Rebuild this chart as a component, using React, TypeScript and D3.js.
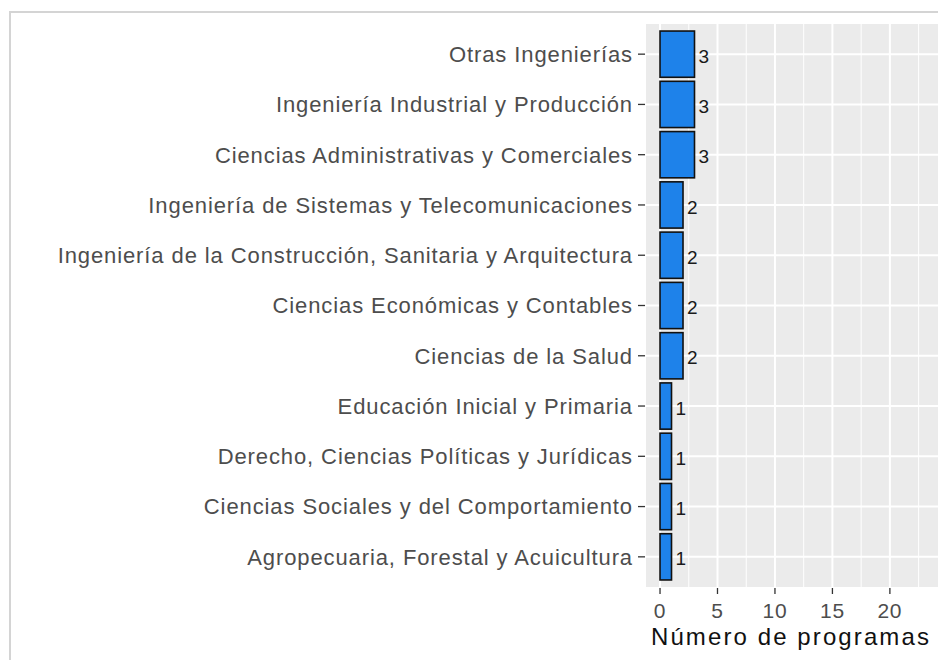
import React, { useRef, useEffect } from 'react';
import * as d3 from 'd3';

// categories top to bottom, as shown
const categories = [
  'Otras Ingenierías',
  'Ingeniería Industrial y Producción',
  'Ciencias Administrativas y Comerciales',
  'Ingeniería de Sistemas y Telecomunicaciones',
  'Ingeniería de la Construcción, Sanitaria y Arquitectura',
  'Ciencias Económicas y Contables',
  'Ciencias de la Salud',
  'Educación Inicial y Primaria',
  'Derecho, Ciencias Políticas y Jurídicas',
  'Ciencias Sociales y del Comportamiento',
  'Agropecuaria, Forestal y Acuicultura',
];
const programas = [3, 3, 3, 2, 2, 2, 2, 1, 1, 1, 1];
const xTicks = [0, 5, 10, 15, 20];
const xMinor = [2.5, 7.5, 12.5, 17.5, 22.5];
const xTitle = 'Número de programas';

const App: React.FC = () => {
  const ref = useRef<SVGSVGElement | null>(null);

  useEffect(() => {
    if (!ref.current) return;
    const width = 938;
    const height = 660;
    const panel = { left: 646, right: 960, top: 24, bottom: 587 };
    const font = 'Liberation Sans, Arial, sans-serif';

    const svg = d3.select(ref.current);
    svg.selectAll('*').remove();
    svg.attr('width', width).attr('height', height);

    svg.append('rect').attr('width', width).attr('height', height).attr('fill', '#fff');

    // outer frame (cut off right and bottom)
    svg.append('rect')
      .attr('x', 10).attr('y', 12)
      .attr('width', 1000).attr('height', 1000)
      .attr('fill', 'none')
      .attr('stroke', '#d4d4d4')
      .attr('stroke-width', 2);

    const x = d3.scaleLinear().domain([-1.22, 26.1]).range([panel.left, panel.right]);
    const y = d3.scalePoint<string>().domain(categories).range([panel.top, panel.bottom]).padding(0.6);
    const barH = y.step() * 0.92;

    svg.append('rect')
      .attr('x', panel.left).attr('y', panel.top)
      .attr('width', panel.right - panel.left).attr('height', panel.bottom - panel.top)
      .attr('fill', '#ebebeb');

    // minor grid
    svg.append('g').selectAll('line').data(xMinor).enter().append('line')
      .attr('x1', d => x(d)).attr('x2', d => x(d))
      .attr('y1', panel.top).attr('y2', panel.bottom)
      .attr('stroke', '#fff').attr('stroke-width', 1);

    // major grid
    svg.append('g').selectAll('line').data(xTicks).enter().append('line')
      .attr('x1', d => x(d)).attr('x2', d => x(d))
      .attr('y1', panel.top).attr('y2', panel.bottom)
      .attr('stroke', '#fff').attr('stroke-width', 2);

    svg.append('g').selectAll('line').data(categories).enter().append('line')
      .attr('x1', panel.left).attr('x2', panel.right)
      .attr('y1', d => y(d)!).attr('y2', d => y(d)!)
      .attr('stroke', '#fff').attr('stroke-width', 2);

    // bars
    svg.append('g').selectAll('rect').data(categories).enter().append('rect')
      .attr('x', x(0))
      .attr('y', d => y(d)! - barH / 2)
      .attr('width', (d, i) => x(programas[i]) - x(0))
      .attr('height', barH)
      .attr('fill', '#1e82ea')
      .attr('stroke', '#111')
      .attr('stroke-width', 1.6);

    // value labels
    svg.append('g').selectAll('text').data(categories).enter().append('text')
      .attr('x', (d, i) => x(programas[i]) + 4)
      .attr('y', d => y(d)!)
      .attr('dy', '0.45em')
      .attr('font-family', font)
      .attr('font-size', 19)
      .attr('fill', '#1a1a1a')
      .text((d, i) => programas[i]);

    // y axis
    const yAxis = svg.append('g');
    yAxis.selectAll('line').data(categories).enter().append('line')
      .attr('x1', panel.left - 8).attr('x2', panel.left - 1)
      .attr('y1', d => y(d)!).attr('y2', d => y(d)!)
      .attr('stroke', '#333').attr('stroke-width', 1.3);
    yAxis.selectAll('text').data(categories).enter().append('text')
      .attr('x', panel.left - 13)
      .attr('y', d => y(d)!)
      .attr('dy', '0.36em')
      .attr('text-anchor', 'end')
      .attr('font-family', font)
      .attr('font-size', 22)
      .attr('letter-spacing', 0.9)
      .attr('fill', '#4d4d4d')
      .text(d => d);

    // x axis
    const xAxis = svg.append('g');
    xAxis.selectAll('line').data(xTicks).enter().append('line')
      .attr('x1', d => x(d)).attr('x2', d => x(d))
      .attr('y1', panel.bottom + 1).attr('y2', panel.bottom + 7)
      .attr('stroke', '#333').attr('stroke-width', 1.3);
    xAxis.selectAll('text').data(xTicks).enter().append('text')
      .attr('x', d => x(d))
      .attr('y', panel.bottom + 31)
      .attr('text-anchor', 'middle')
      .attr('font-family', font)
      .attr('font-size', 21)
      .attr('letter-spacing', 0.8)
      .attr('fill', '#4d4d4d')
      .text(d => d);

    svg.append('text')
      .attr('x', 791)
      .attr('y', 645)
      .attr('text-anchor', 'middle')
      .attr('font-family', font)
      .attr('font-size', 24)
      .attr('letter-spacing', 2.1)
      .attr('fill', '#111')
      .text(xTitle);
  }, []);

  return <svg ref={ref} style={{ position: 'absolute', left: 0, top: 0, display: 'block' }}></svg>;
};

export default App;
